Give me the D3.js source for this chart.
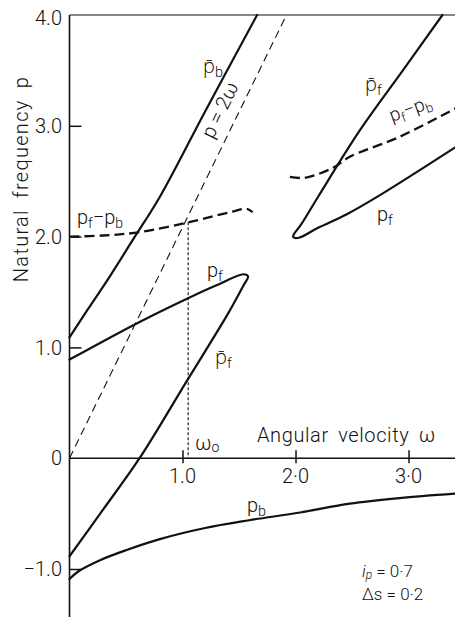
<!DOCTYPE html>
<html>
<head>
<meta charset="utf-8">
<script src="https://cdn.jsdelivr.net/npm/d3@7"></script>
<style>
  html, body { margin: 0; padding: 0; background: #fff; }
  svg { display: block; }
  text { font-family: Roboto, "Open Sans", sans-serif; font-weight: 300; fill: #111; }
</style>
</head>
<body>
<svg id="chart" width="455" height="617"></svg>
<script>
// ---- data (angular velocity ω, natural frequency p) ----
const xTickValues = [1.0, 2.0, 3.0];
const xTickLabels = ["1.0", "2·0", "3·0"];
const yTickValues = [-1, 0, 1, 2, 3, 4];
const yTickLabels = ["−1.0", "0", "1.0", "2.0", "3.0", "4.0"];

// backward whirl, upper branch  p̄_b
const pbBar = [[0,1.09],[0.16,1.34],[0.35,1.63],[0.56,1.97],[0.8,2.36],[1.2,3.13],[1.66,4.0]];
// backward whirl, lower branch  p_b
const pb = [[0,-1.09],[0.08,-1.02],[0.27,-0.92],[0.5,-0.83],[0.8,-0.73],[1.2,-0.63],[1.59,-0.56],
            [2.04,-0.49],[2.48,-0.41],[2.92,-0.36],[3.42,-0.32]];
// forward whirl loop below ω≈1.6 : p̄_f rising, turning, p_f returning
const forwardLoopLow = [[0,-0.885],[0.3,-0.46],[0.62,0.0],[1.04,0.70],[1.4,1.30],[1.54,1.56],[1.58,1.64],
                        [1.54,1.66],[1.3,1.56],[1.04,1.44],[0.62,1.23],[0,0.89]];
// forward whirl loop above ω≈2 : p̄_f from the top edge, turning, p_f
const forwardLoopHigh = [[3.30,4.0],[2.95,3.5],[2.57,2.96],[2.2,2.36],[2.05,2.11],[1.985,2.02],[1.98,1.995],
                         [2.03,1.99],[2.2,2.08],[2.45,2.2],[2.74,2.37],[3.42,2.81]];
// difference frequency p_f − p_b
const diffLow = [[0,2.0],[0.3,2.01],[0.62,2.04],[1.06,2.13],[1.42,2.22],[1.57,2.25],[1.62,2.22]];
const diffHigh = [[1.95,2.54],[2.08,2.53],[2.33,2.62],[2.48,2.72],[2.92,2.90],[3.42,3.16]];
// the line p = 2ω
const twiceOmega = [[0,0],[1.92,4.0]];
// ω0 : where p_f − p_b meets p = 2ω
const omega0 = 1.05;
const omega0P = 2.13;

// ---- scales ----
const svg = d3.select("#chart");
const x = d3.scaleLinear().domain([0, 3.42]).range([69.5, 456]);
const y = d3.scaleLinear().domain([-1, 4]).range([569, 15]);

const line = d3.line().x(d => x(d[0])).y(d => y(d[1])).curve(d3.curveCatmullRom.alpha(0.5));

// ---- frame and axes ----
const axisColor = "#111";
svg.append("line").attr("x1", x(0)).attr("x2", x(0)).attr("y1", y(4)).attr("y2", 617)
  .attr("stroke", axisColor).attr("stroke-width", 1.6);
svg.append("line").attr("x1", x(0)).attr("x2", 455).attr("y1", y(4)).attr("y2", y(4))
  .attr("stroke", axisColor).attr("stroke-width", 1.2);
svg.append("line").attr("x1", x(0)).attr("x2", 455).attr("y1", y(0)).attr("y2", y(0))
  .attr("stroke", axisColor).attr("stroke-width", 1.6);

// y ticks point inward
const yAxis = d3.axisRight(y).tickValues(yTickValues.filter(v => v !== 0 && v !== 4))
  .tickSize(12).tickFormat("");
const gy = svg.append("g").attr("transform", `translate(${x(0)},0)`).call(yAxis);
gy.select(".domain").remove();
gy.selectAll(".tick line").attr("stroke", axisColor).attr("stroke-width", 1.5);

yTickValues.forEach((v, i) => {
  svg.append("text").attr("x", 62).attr("y", y(v) + (v === 4 ? 3 : 0)).attr("dy", "0.36em")
    .attr("text-anchor", "end").attr("font-size", 20).text(yTickLabels[i]);
});

// x ticks cross the axis
const xAxis = d3.axisBottom(x).tickValues(xTickValues).tickSize(5).tickFormat("");
const gx = svg.append("g").attr("transform", `translate(0,${y(0)})`).call(xAxis);
gx.select(".domain").remove();
gx.selectAll(".tick line").attr("y1", -8).attr("stroke", axisColor).attr("stroke-width", 1.5);
xTickValues.forEach((v, i) => {
  svg.append("text").attr("x", x(v)).attr("y", 483).attr("text-anchor", "middle")
    .attr("font-size", 20).text(xTickLabels[i]);
});

// axis titles
svg.append("text").attr("x", 257).attr("y", 442).attr("font-size", 20).attr("letter-spacing", 0.6)
  .attr("word-spacing", 4).text("Angular velocity ω");
svg.append("text").attr("transform", "translate(28,179) rotate(-90)").attr("text-anchor", "middle")
  .attr("font-size", 20).attr("letter-spacing", 1.3).attr("word-spacing", 5).text("Natural frequency p");

// ---- curves ----
const solid = (pts) => svg.append("path").attr("d", line(pts)).attr("fill", "none")
  .attr("stroke", "#111").attr("stroke-width", 2.2).attr("stroke-linejoin", "round").attr("stroke-linecap", "round");

solid(pbBar);
solid(pb);
solid(forwardLoopLow);
solid(forwardLoopHigh);

[diffLow, diffHigh].forEach(pts => {
  svg.append("path").attr("d", line(pts)).attr("fill", "none")
    .attr("stroke", "#111").attr("stroke-width", 2.3).attr("stroke-dasharray", "10,5");
});

svg.append("path").attr("d", d3.line().x(d => x(d[0])).y(d => y(d[1]))(twiceOmega))
  .attr("fill", "none").attr("stroke", "#111").attr("stroke-width", 1.1).attr("stroke-dasharray", "8,5");

svg.append("line").attr("x1", x(omega0)).attr("x2", x(omega0)).attr("y1", y(omega0P)).attr("y2", y(0))
  .attr("stroke", "#111").attr("stroke-width", 1.1).attr("stroke-dasharray", "3,2");

// ---- curve labels ----
function label(px, py, bar, sub, size) {
  const t = svg.append("text").attr("x", px).attr("y", py).attr("font-size", size || 20);
  t.append("tspan").text(bar ? "p\u0304" : "p");
  t.append("tspan").attr("dy", 4).attr("font-size", (size || 20) * 0.72).text(sub);
  return t;
}
label(203, 73, true, "b");
label(207, 277, false, "f");
label(215, 364, true, "f");
label(365, 91, true, "f");
label(377, 221, false, "f");
label(247, 512, false, "b");

// p_f − p_b (left)
const dl = svg.append("text").attr("x", 77).attr("y", 224).attr("font-size", 20);
dl.append("tspan").text("p");
dl.append("tspan").attr("dy", 4).attr("font-size", 14).text("f");
dl.append("tspan").attr("dy", -4).text("−p");
dl.append("tspan").attr("dy", 4).attr("font-size", 14).text("b");

// p_f − p_b (right), tilted with the dashed curve
const dr = svg.append("text").attr("transform", "translate(392,122) rotate(-20)").attr("font-size", 19);
dr.append("tspan").text("p");
dr.append("tspan").attr("dy", 4).attr("font-size", 13).text("f");
dr.append("tspan").attr("dy", -4).text("−p");
dr.append("tspan").attr("dy", 4).attr("font-size", 13).text("b");

// p = 2ω along its line
const ang = Math.atan2(y(twiceOmega[0][1]) - y(twiceOmega[1][1]), x(twiceOmega[1][0]) - x(twiceOmega[0][0])) * 180 / Math.PI;
svg.append("text").attr("transform", `translate(226,113) rotate(${-ang})`).attr("text-anchor", "middle")
  .attr("font-size", 20).text("p = 2ω");

// ω0
const w0 = svg.append("text").attr("x", 195).attr("y", 450).attr("font-size", 20);
w0.append("tspan").text("ω");
w0.append("tspan").attr("dy", 2).attr("font-size", 14).text("o");

// parameters
const a1 = svg.append("text").attr("x", 362).attr("y", 577).attr("font-size", 17);
a1.append("tspan").attr("font-style", "italic").text("i");
a1.append("tspan").attr("font-style", "italic").attr("dy", 2).attr("font-size", 12).text("p");
a1.append("tspan").attr("dy", -2).text(" = 0·7");
svg.append("text").attr("x", 362).attr("y", 600).attr("font-size", 17).text("Δs = 0·2");
</script>
</body>
</html>
